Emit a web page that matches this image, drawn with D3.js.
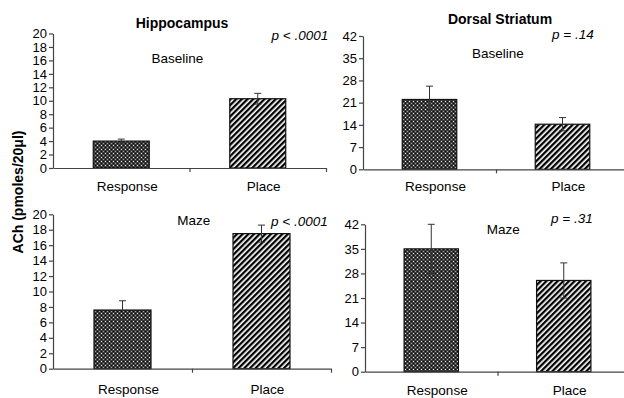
<!DOCTYPE html>
<html>
<head>
<meta charset="utf-8">
<script src="https://cdn.jsdelivr.net/npm/d3@7"></script>
<style>
  body { margin: 0; background: #fff; }
  svg { display: block; font-family: "Liberation Sans", Arial, sans-serif; }
</style>
</head>
<body>
<svg id="chart" width="624" height="398"></svg>
<script>
// data
const categories = ['Response', 'Place'];
const hippoTicks = [0, 2, 4, 6, 8, 10, 12, 14, 16, 18, 20];
const striatumTicks = [0, 7, 14, 21, 28, 35, 42];
const hippoBaseline = [4.0, 10.3];
const hippoBaselineSem = [0.3, 0.8];
const hippoMaze = [7.6, 17.5];
const hippoMazeSem = [1.2, 1.1];
const striatumBaseline = [22.0, 14.2];
const striatumBaselineSem = [4.2, 2.1];
const striatumMaze = [35.0, 26.0];
const striatumMazeSem = [7.0, 5.0];
const regionTitles = ['Hippocampus', 'Dorsal Striatum'];
const conditions = ['Baseline', 'Maze'];
const pLabels = ['p < .0001', 'p = .14', 'p < .0001', 'p = .31'];

const svg = d3.select('#chart');

// fills
const defs = svg.append('defs');
const dots = defs.append('pattern')
  .attr('id', 'dots')
  .attr('patternUnits', 'userSpaceOnUse')
  .attr('width', 4).attr('height', 4);
dots.append('rect').attr('width', 4).attr('height', 4).attr('fill', '#3c3c3c');
dots.append('rect').attr('x', 1).attr('y', 1).attr('width', 1).attr('height', 1).attr('fill', '#e8e8e8');
dots.append('rect').attr('x', 3).attr('y', 3).attr('width', 1).attr('height', 1).attr('fill', '#a0a0a0');
dots.append('rect').attr('x', 1).attr('y', 3).attr('width', 1).attr('height', 1).attr('fill', '#0a0a0a');
dots.append('rect').attr('x', 3).attr('y', 1).attr('width', 1).attr('height', 1).attr('fill', '#0a0a0a');

const stripes = defs.append('pattern')
  .attr('id', 'stripes')
  .attr('patternUnits', 'userSpaceOnUse')
  .attr('width', 4).attr('height', 4)
  .attr('patternTransform', 'rotate(45)');
stripes.append('rect').attr('width', 4).attr('height', 4).attr('fill', '#fff');
stripes.append('rect').attr('width', 2.3).attr('height', 4).attr('fill', '#000');

const fills = ['url(#dots)', 'url(#stripes)'];

const panels = [
  { values: hippoBaseline, sem: hippoBaselineSem, ticks: hippoTicks, cond: conditions[0], p: pLabels[0],
    left: 53, right: 326, bottom: 168, top: 33.5, condX: 177.5, condY: 62.5, pX: 271.5, pY: 39.5, labelY: 190.5 },
  { values: striatumBaseline, sem: striatumBaselineSem, ticks: striatumTicks, cond: conditions[0], p: pLabels[1],
    left: 363, right: 629, bottom: 169.3, top: 36, condX: 498, condY: 57.5, pX: 552, pY: 39, labelY: 190.5 },
  { values: hippoMaze, sem: hippoMazeSem, ticks: hippoTicks, cond: conditions[1], p: pLabels[2],
    left: 53, right: 331, bottom: 368.7, top: 214.3, condX: 193.7, condY: 224.5, pX: 271, pY: 226, labelY: 393.5 },
  { values: striatumMaze, sem: striatumMazeSem, ticks: striatumTicks, cond: conditions[1], p: pLabels[3],
    left: 365, right: 630, bottom: 371.7, top: 224.3, condX: 503.3, condY: 233.5, pX: 551, pY: 223, labelY: 395 }
];

panels.forEach(p => {
  const g = svg.append('g');
  const yMax = d3.max(p.ticks);

  const x = d3.scaleBand()
    .domain(categories)
    .range([p.left, p.right])
    .paddingInner(0.59)
    .paddingOuter(0.295);

  const y = d3.scaleLinear()
    .domain([0, yMax])
    .range([p.bottom, p.top]);

  // bars
  g.selectAll('rect.bar')
    .data(p.values)
    .enter()
    .append('rect')
    .attr('class', 'bar')
    .attr('x', (d, i) => x(categories[i]))
    .attr('y', d => y(d))
    .attr('width', x.bandwidth())
    .attr('height', d => y(0) - y(d))
    .attr('fill', (d, i) => fills[i])
    .attr('stroke', '#111')
    .attr('stroke-width', 1.2);

  // error bars
  const err = g.selectAll('g.err')
    .data(p.values)
    .enter()
    .append('g')
    .attr('class', 'err')
    .attr('stroke', '#333')
    .attr('stroke-width', 1);
  const cx = i => x(categories[i]) + x.bandwidth() / 2;
  err.append('line')
    .attr('x1', (d, i) => cx(i)).attr('x2', (d, i) => cx(i))
    .attr('y1', (d, i) => y(d - p.sem[i])).attr('y2', (d, i) => y(d + p.sem[i]));
  err.append('line')
    .attr('x1', (d, i) => cx(i) - 3.5).attr('x2', (d, i) => cx(i) + 3.5)
    .attr('y1', (d, i) => y(d + p.sem[i])).attr('y2', (d, i) => y(d + p.sem[i]));
  err.append('line')
    .attr('x1', (d, i) => cx(i) - 3.5).attr('x2', (d, i) => cx(i) + 3.5)
    .attr('y1', (d, i) => y(d - p.sem[i])).attr('y2', (d, i) => y(d - p.sem[i]));

  // y axis
  const yAxis = g.append('g')
    .attr('transform', `translate(${p.left},0)`)
    .call(d3.axisLeft(y).tickValues(p.ticks).tickSize(4).tickSizeOuter(0).tickPadding(2));
  yAxis.selectAll('text').attr('font-size', 13).attr('fill', '#000').attr('font-family', '"Liberation Sans", Arial, sans-serif');
  yAxis.selectAll('line, path').attr('stroke', '#444').attr('stroke-width', 1.2);

  // x axis with boundary ticks
  const xb = d3.scaleLinear().domain([0, categories.length]).range([p.left, p.right]);
  const xAxis = g.append('g')
    .attr('transform', `translate(0,${p.bottom})`)
    .call(d3.axisBottom(xb).tickValues([1, 2]).tickSize(4).tickSizeOuter(0).tickFormat(''));
  xAxis.selectAll('line, path').attr('stroke', '#444').attr('stroke-width', 1.2);

  g.selectAll('text.cat')
    .data(categories)
    .enter()
    .append('text')
    .attr('class', 'cat')
    .attr('x', d => x(d) + x.bandwidth() / 2 + 6)
    .attr('y', p.labelY)
    .attr('text-anchor', 'middle')
    .attr('font-size', 13.5)
    .text(d => d);

  g.append('text')
    .attr('x', p.condX)
    .attr('y', p.condY)
    .attr('text-anchor', 'middle')
    .attr('font-size', 13.5)
    .text(p.cond);

  g.append('text')
    .attr('x', p.pX)
    .attr('y', p.pY)
    .attr('font-size', 13.5)
    .attr('font-style', 'italic')
    .text(p.p);
});

// region titles
svg.append('text')
  .attr('x', 182).attr('y', 28)
  .attr('text-anchor', 'middle')
  .attr('font-size', 14).attr('font-weight', 'bold')
  .text(regionTitles[0]);
svg.append('text')
  .attr('x', 500).attr('y', 24)
  .attr('text-anchor', 'middle')
  .attr('font-size', 14).attr('font-weight', 'bold')
  .text(regionTitles[1]);

// shared y label
svg.append('text')
  .attr('transform', 'translate(22.5,192) rotate(-90)')
  .attr('text-anchor', 'middle')
  .attr('font-size', 14).attr('font-weight', 'bold')
  .text('ACh (pmoles/20\u03bcl)');
</script>
</body>
</html>
